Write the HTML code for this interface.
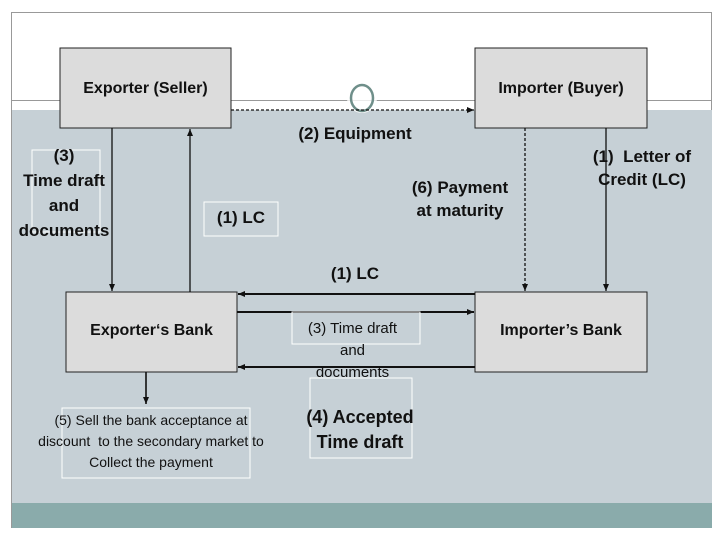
<!DOCTYPE html>
<html><head><style>
body{margin:0;width:720px;height:540px;background:#fff;position:relative;overflow:hidden;font-family:"Liberation Sans",Arial,sans-serif;}
.t{position:absolute;color:#111;text-align:center;white-space:nowrap;font-weight:bold;}
</style></head><body>
<div style="position:absolute;left:11px;top:12px;width:701px;height:516px;border:1px solid #999;box-sizing:border-box;background:#fff"></div>
<div style="position:absolute;left:12px;top:100px;width:700px;height:1px;background:#999"></div>
<div style="position:absolute;left:12px;top:110px;width:700px;height:393px;background:#c6d0d6"></div>
<div style="position:absolute;left:12px;top:503px;width:700px;height:25px;background:#8aabab"></div>
<svg width="720" height="540" style="position:absolute;left:0;top:0">
<defs><marker id="a" markerWidth="8" markerHeight="8" refX="7" refY="4" orient="auto" markerUnits="userSpaceOnUse"><path d="M0,1 L7,4 L0,7z" fill="#111"/></marker></defs>
<g fill="#dcdcdc" stroke="#222" stroke-width="1">
<rect x="60" y="48" width="171" height="80"/>
<rect x="475" y="48" width="172" height="80"/>
<rect x="66" y="292" width="171" height="80"/>
<rect x="475" y="292" width="172" height="80"/>
</g>
<circle cx="362" cy="98" r="15" fill="#fff" opacity="0.8"/>
<ellipse cx="362" cy="98" rx="11" ry="13" fill="none" stroke="#6f8f8a" stroke-width="2.5"/>
<g stroke="#111" stroke-width="1.3" fill="none">
<line x1="231" y1="110" x2="474" y2="110" stroke-dasharray="3,2" marker-end="url(#a)"/>
<line x1="112" y1="128" x2="112" y2="291" marker-end="url(#a)"/>
<line x1="190" y1="292" x2="190" y2="129" marker-end="url(#a)"/>
<line x1="525" y1="128" x2="525" y2="291" stroke-dasharray="3,2" marker-end="url(#a)"/>
<line x1="606" y1="128" x2="606" y2="291" marker-end="url(#a)"/>
<line x1="475" y1="294" x2="238" y2="294" stroke-width="2" marker-end="url(#a)"/>
<line x1="237" y1="312" x2="474" y2="312" stroke-width="2" marker-end="url(#a)"/>
<line x1="475" y1="367" x2="238" y2="367" stroke-width="2" marker-end="url(#a)"/>
<line x1="146" y1="372" x2="146" y2="404" stroke-width="1.6" marker-end="url(#a)"/>
</g>
<g fill="none" stroke="#fff" stroke-width="1">
<rect x="32" y="150" width="68" height="82"/>
<rect x="204" y="202" width="74" height="34"/>
<rect x="292" y="312" width="128" height="32"/>
<rect x="310" y="378" width="102" height="80"/>
<rect x="62" y="408" width="188" height="70"/>
</g>
</svg>
<div class="t" style="left:60px;top:80px;width:171px;font-size:16px">Exporter (Seller)</div>
<div class="t" style="left:475px;top:80px;width:172px;font-size:16px">Importer (Buyer)</div>
<div class="t" style="left:66px;top:322px;width:171px;font-size:16px">Exporter‘s Bank</div>
<div class="t" style="left:475px;top:322px;width:172px;font-size:16px">Importer’s Bank</div>
<div class="t" style="left:270px;top:124px;width:170px;font-size:17px">(2) Equipment</div>
<div class="t" style="left:0px;top:143px;width:128px;font-size:17px;line-height:25px">(3)<br>Time draft<br>and<br>documents</div>
<div class="t" style="left:204px;top:208px;width:74px;font-size:17px">(1) LC</div>
<div class="t" style="left:390px;top:176px;width:140px;font-size:17px;line-height:23px">(6) Payment<br>at maturity</div>
<div class="t" style="left:572px;top:145px;width:140px;font-size:17px;line-height:23px">(1)&nbsp; Letter of<br>Credit (LC)</div>
<div class="t" style="left:300px;top:264px;width:110px;font-size:17px">(1) LC</div>
<div class="t" style="left:285px;top:318px;width:135px;font-size:15px;line-height:22px;font-weight:normal">(3) Time draft<br>and<br>documents</div>
<div class="t" style="left:290px;top:405px;width:140px;font-size:18px;line-height:25px">(4) Accepted<br>Time draft</div>
<div class="t" style="left:6px;top:410px;width:290px;font-size:14px;line-height:21px;font-weight:normal">(5) Sell the bank acceptance at<br>discount&nbsp; to the secondary market to<br>Collect the payment</div>
</body></html>
